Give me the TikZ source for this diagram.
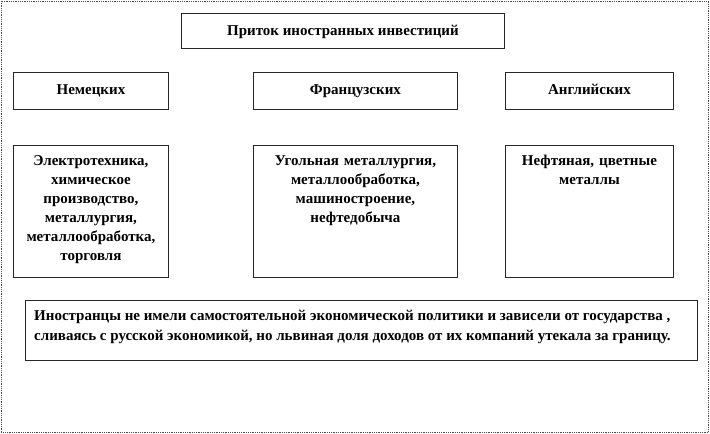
\documentclass[tikz,border=0pt]{standalone}
\usepackage{fontspec}
\setmainfont{Liberation Serif}
\begin{document}
\begin{tikzpicture}[x=1pt,y=-1pt,
  box/.style={draw=black!85,line width=0.9pt,inner sep=0pt,anchor=north west},
  txt/.style={font=\bfseries\fontsize{15}{19}\selectfont,align=center,inner sep=0pt},
]
\useasboundingbox (0,0) rectangle (710,434);
\draw[black!70,densely dotted,line width=0.8pt] (1,1) rectangle (708,432.5);
% title
\node[box,minimum width=323pt,minimum height=35pt] (title) at (181,13) {};
\node[txt,anchor=base] (titlet) at ([yshift=-4.5pt]title.center) {Приток иностранных инвестиций};
% row 2
\node[box,minimum width=155pt,minimum height=37pt] (de) at (13,72) {};
\node[txt,anchor=base] (det) at ([yshift=-4pt]de.center) {Немецких};
\node[box,minimum width=204pt,minimum height=37pt] (fr) at (253,72) {};
\node[txt,anchor=base] (frt) at ([yshift=-4pt]fr.center) {Французских};
\node[box,minimum width=168pt,minimum height=37pt] (en) at (505,72) {};
\node[txt,anchor=base] (ent) at ([yshift=-4pt]en.center) {Английских};
% row 3
\node[box,minimum width=155pt,minimum height=132pt] (de2) at (13,145) {};
\node[txt,anchor=north,text width=152pt] (de2t) at ([yshift=-10pt]de2.north) {Электротехника,\\ химическое\\ производство,\\ металлургия,\\ металлообработка,\\ торговля};
\node[box,minimum width=204pt,minimum height=132pt] (fr2) at (253,145) {};
\node[txt,anchor=north,text width=200pt] (fr2t) at ([yshift=-10pt]fr2.north) {Угольная металлургия,\\ металлообработка,\\ машиностроение,\\ нефтедобыча};
\node[box,minimum width=168pt,minimum height=132pt] (en2) at (505,145) {};
\node[txt,anchor=north,text width=164pt] (en2t) at ([yshift=-10pt]en2.north) {Нефтяная, цветные\\ металлы};
% bottom
\node[box,minimum width=672pt,minimum height=60pt] (conc) at (25,300) {};
\node[txt,align=left,anchor=north west,font=\bfseries\fontsize{15}{20}\selectfont] (conct) at ([xshift=9pt,yshift=-10pt]conc.north west) {Иностранцы не имели самостоятельной  экономической политики и зависели от государства  ,\\ сливаясь с русской  экономикой, но львиная доля  доходов  от их компаний утекала  за границу.};
\end{tikzpicture}
\end{document}
